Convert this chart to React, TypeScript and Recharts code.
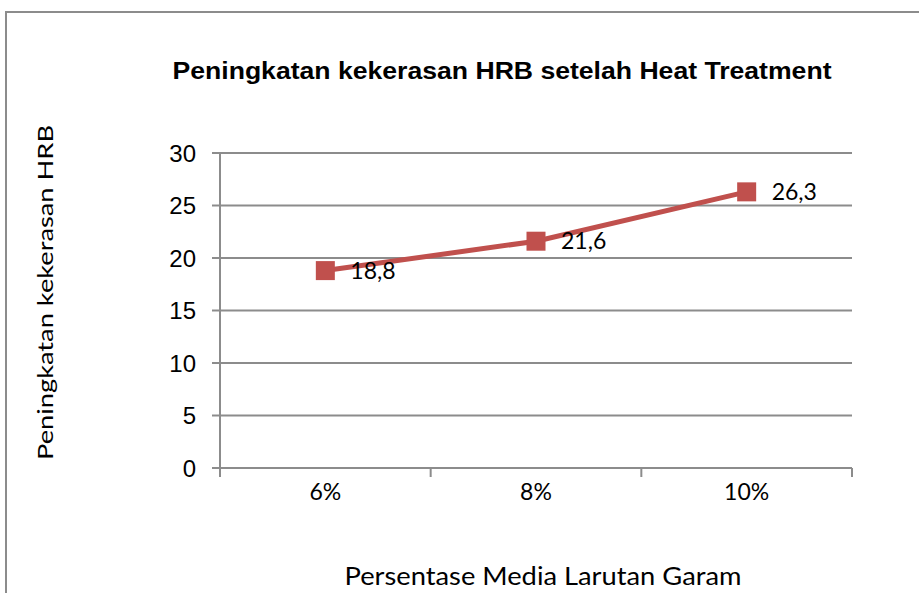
import React from "react"
import {
  LineChart,
  Line,
  XAxis,
  YAxis,
  CartesianGrid,
  LabelList,
} from "recharts"

const categories = ["6%", "8%", "10%"]
const hardness = [18.8, 21.6, 26.3]
const yTicks = [0, 5, 10, 15, 20, 25, 30]

const chartTitle = "Peningkatan kekerasan HRB setelah Heat Treatment"
const xTitle = "Persentase Media Larutan Garam"
const yTitle = "Peningkatan kekerasan HRB"

const data = categories.map((c, i) => ({ name: c, value: hardness[i] }))

const RED = "#C0504D"
const GREY = "#8c8c8c"
const BODY_FONT = "Lato, 'Open Sans', sans-serif"
const AXIS_FONT = "'Liberation Sans', Arial, sans-serif"

function XTick(props: any) {
  const { x, y, payload, index, visibleTicksCount } = props
  const half = payload?.offset ?? 0
  const isLast = index === visibleTicksCount - 1
  return (
    <g>
      <line x1={x - half} x2={x - half} y1={y - 9} y2={y} stroke={GREY} strokeWidth={2} />
      {isLast && (
        <line x1={x + half} x2={x + half} y1={y - 9} y2={y} stroke={GREY} strokeWidth={2} />
      )}
      <text x={x} y={y + 23} textAnchor="middle" fontFamily={BODY_FONT} fontSize={23} fill="#000">
        {payload.value}
      </text>
    </g>
  )
}

function YTitle(props: any) {
  const vb = props.viewBox
  const cx = 53
  const cy = vb.y + vb.height / 2 - 18
  return (
    <text
      x={cx}
      y={cy}
      transform={`rotate(-90 ${cx} ${cy})`}
      textAnchor="middle"
      fontFamily={BODY_FONT}
      fontSize={22}
      textLength={335}
      lengthAdjust="spacingAndGlyphs"
      fill="#000"
    >
      {yTitle}
    </text>
  )
}

function XTitle(props: any) {
  const vb = props.viewBox
  const cx = vb.x + vb.width / 2 + 7
  return (
    <text
      x={cx}
      y={585}
      textAnchor="middle"
      fontFamily={BODY_FONT}
      fontSize={25}
      textLength={397}
      lengthAdjust="spacingAndGlyphs"
      fill="#000"
    >
      {xTitle}
    </text>
  )
}

export default function App() {
  return (
    <div
      style={{
        position: "absolute",
        left: 0,
        top: 0,
        width: 919,
        height: 593,
        background: "#fff",
        overflow: "hidden",
      }}
    >
      <div
        style={{
          position: "absolute",
          left: 5,
          top: 11,
          width: 1000,
          height: 700,
          border: `2px solid ${GREY}`,
          boxSizing: "border-box",
        }}
      />
      <svg width={919} height={120} style={{ position: "absolute", left: 0, top: 0 }}>
        <text
          x={502}
          y={79}
          textAnchor="middle"
          fontFamily={AXIS_FONT}
          fontWeight="bold"
          fontSize={23}
          textLength={659}
          lengthAdjust="spacingAndGlyphs"
          fill="#000"
        >
          {chartTitle}
        </text>
      </svg>
      <div style={{ position: "absolute", left: 0, top: 0 }}>
        <LineChart
          width={919}
          height={593}
          data={data}
          margin={{ top: 153, right: 67, bottom: 0, left: 0 }}
        >
          <CartesianGrid vertical={false} stroke={GREY} strokeWidth={2} />
          <XAxis
            dataKey="name"
            scale="band"
            height={125}
            stroke={GREY}
            strokeWidth={2}
            tickLine={false}
            tickSize={9}
            tickMargin={0}
            tick={<XTick />}
            label={<XTitle />}
          />
          <YAxis
            width={220}
            domain={[0, 30]}
            ticks={yTicks}
            stroke={GREY}
            strokeWidth={2}
            tickSize={8}
            tickMargin={16}
            tick={{ fontFamily: AXIS_FONT, fontSize: 24, fill: "#000" }}
            label={<YTitle />}
          />
          <Line
            type="linear"
            dataKey="value"
            stroke={RED}
            strokeWidth={5}
            isAnimationActive={false}
            dot={(p: any) => (
              <rect key={p.index} x={p.cx - 9.5} y={p.cy - 9.5} width={19} height={19} fill={RED} />
            )}
          >
            <LabelList
              dataKey="value"
              position="right"
              offset={25}
              formatter={(v: any) => String(v).replace(".", ",")}
              style={{ fontFamily: BODY_FONT, fontSize: 23, fill: "#000" }}
            />
          </Line>
        </LineChart>
      </div>
    </div>
  )
}
